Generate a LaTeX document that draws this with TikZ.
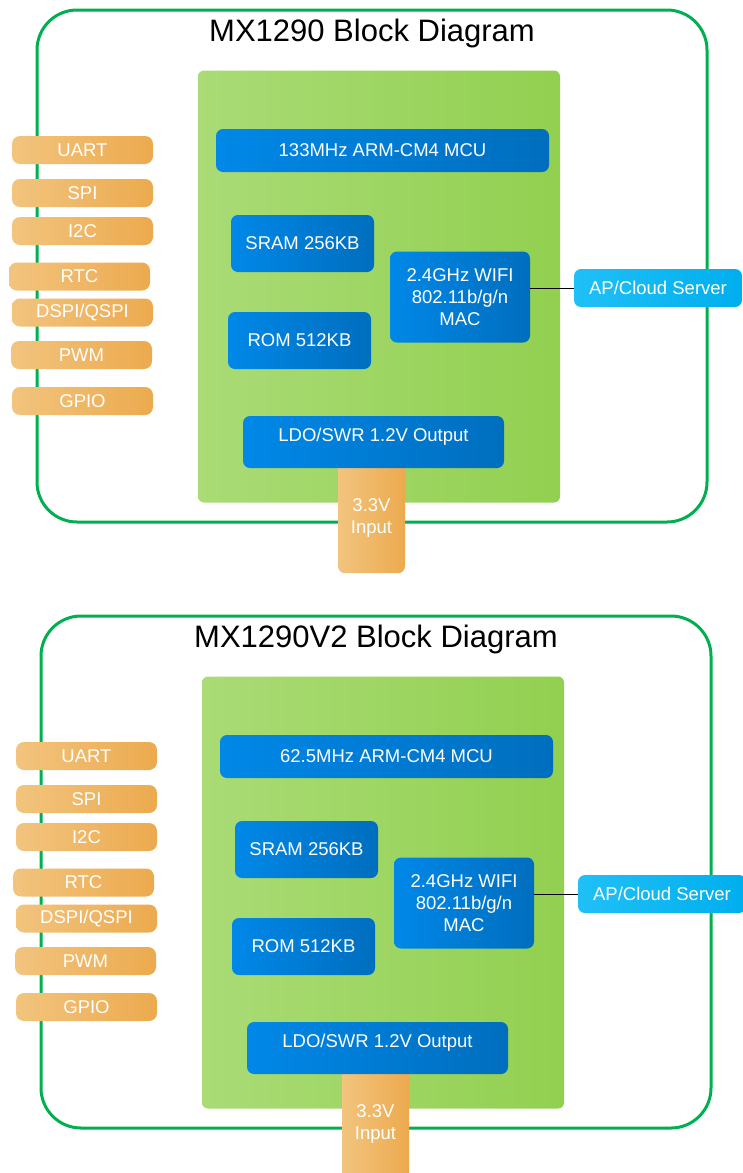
\documentclass[tikz,border=0pt]{standalone}
\usepackage{fontspec}
\setmainfont{Liberation Sans}
\usepackage{xcolor}
\definecolor{framegreen}{RGB}{0, 176, 80}
\definecolor{chiplight}{RGB}{170, 219, 118}
\definecolor{chipdark}{RGB}{146, 208, 80}
\definecolor{bluelight}{RGB}{0, 136, 232}
\definecolor{bluedark}{RGB}{0, 110, 190}
\definecolor{orangelight}{RGB}{242, 196, 126}
\definecolor{orangedark}{RGB}{236, 170, 78}
\definecolor{cyanlight}{RGB}{32, 192, 246}
\definecolor{cyandark}{RGB}{0, 174, 238}

\tikzset{
    blockfont/.style={font=\fontsize{18.5}{22}\selectfont},
    chip/.style={rectangle,rounded corners=6pt,inner sep=0pt,left color=chiplight,right color=chipdark},
    unit/.style={rectangle,rounded corners=7pt,inner sep=0pt,left color=bluelight,right color=bluedark,text=white,align=center,blockfont},
    port/.style={rectangle,rounded corners=8pt,inner sep=0pt,minimum width=141pt,minimum height=28pt,left color=orangelight,right color=orangedark,text=white,blockfont},
    cloud/.style={rectangle,rounded corners=7pt,inner sep=0pt,minimum width=168pt,minimum height=38pt,left color=cyanlight,right color=cyandark,text=white,blockfont},
    wire/.style={draw=black,line width=0.8pt}
}

\begin{document}
\begin{tikzpicture}[x=1pt,y=-1pt]
    \fill[white] (0,0) rectangle (743,1173);
    \useasboundingbox (0,0) rectangle (743,1173);

    \foreach \dx/\dy/\nm/\ttl/\clk in {0/0/top/MX1290/133MHz, 4/606/bot/MX1290V2/62.5MHz} {
        \begin{scope}[shift={(\dx,\dy)},name prefix=\nm-]
            % frame and title
            \draw[framegreen,line width=3pt,rounded corners=40pt] (37,10) rectangle (707,522);
            \node[font=\fontsize{31}{36}\selectfont] (title) at (372,33) {\ttl\ Block Diagram};

            % module
            \node[chip,minimum width=362pt,minimum height=432pt] (module) at (379,286.5) {};
            \node[port,rounded corners=7pt,minimum width=67pt,minimum height=111pt,anchor=north,align=center] (vin) at (371.5,462) {3.3V\\Input};
            \node[unit,minimum width=333pt,minimum height=43pt] (mcu) at (382.5,150.5) {\clk\ ARM-CM4 MCU};
            \node[unit,minimum width=143pt,minimum height=57pt] (sram) at (302.5,243.5) {SRAM 256KB};
            \node[unit,minimum width=143pt,minimum height=57pt] (rom) at (299.5,340.5) {ROM 512KB};
            \node[unit,minimum width=140pt,minimum height=91pt] (wifi) at (460,297) {2.4GHz WIFI\\802.11b/g/n\\MAC};
            \node[unit,minimum width=261pt,minimum height=52pt,text depth=15pt] (ldo) at (373.5,442) {LDO/SWR 1.2V Output};

            % peripherals
            \node[port] (uart) at (82.5,150) {UART};
            \node[port] (spi) at (82.5,193) {SPI};
            \node[port] (iic) at (82.5,231) {I2C};
            \node[port] (rtc) at (79.5,276.5) {RTC};
            \node[port] (qspi) at (82.5,312.5) {DSPI/QSPI};
            \node[port] (pwm) at (81.5,355) {PWM};
            \node[port] (gpio) at (82.5,401) {GPIO};

            % server
            \node[cloud] (ap) at (658,288) {AP/Cloud Server};
            \draw[wire] (ap.west -| wifi.east) -- (ap.west);
        \end{scope}
    }
\end{tikzpicture}
\end{document}
